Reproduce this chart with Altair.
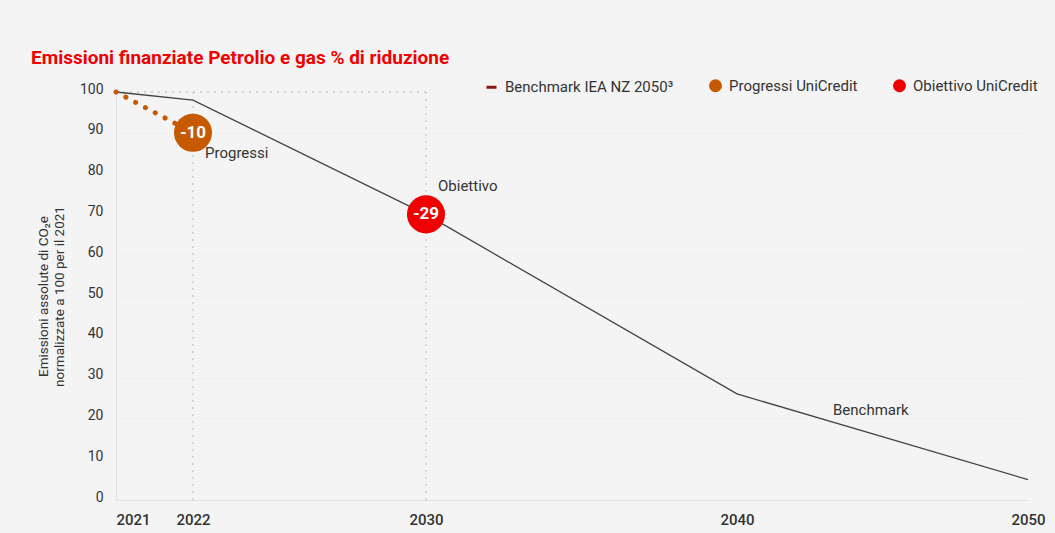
import altair as alt
import pandas as pd

# ---- data ----
bench_years = [2021, 2022, 2030, 2040, 2050]
bench_values = [100, 98, 70, 26, 5]

progress_years = [2021, 2022]
progress_values = [100, 90]

marker_years = [2022, 2030]
marker_values = [90, 70]
marker_labels = ["-10", "-29"]
marker_series = ["Progressi UniCredit", "Obiettivo UniCredit"]

note_texts = ["Progressi", "Obiettivo"]
note_years = [2022, 2030]
note_values = [85, 77]

bench_note = ["Benchmark"]
bench_note_year = [2044.6]
bench_note_value = [22]

ref_years = [2022, 2030]
ref_top = 100

tick_years = [2021, 2022, 2030, 2040, 2050]
legend_names = ["Benchmark IEA NZ 2050³", "Progressi UniCredit", "Obiettivo UniCredit"]
legend_colors = ["#8a1414", "#c55a00", "#f00000"]
legend_shapes = ["stroke", "circle", "circle"]

FONT = "Roboto"
TXT = "#333333"

xscale = alt.Scale(domain=[2021, 2022, 2030, 2040, 2050],
                   range=[0, 77, 310, 621, 912], nice=False, zero=False)
yscale = alt.Scale(domain=[0, 100], nice=False, zero=True)

bench_df = pd.DataFrame({"year": bench_years, "value": bench_values})
prog_df = pd.DataFrame({"year": progress_years, "value": progress_values})
mark_df = pd.DataFrame({"year": marker_years, "value": marker_values,
                        "label": marker_labels, "series": marker_series})
note_df = pd.DataFrame({"year": note_years, "value": note_values, "text": note_texts})
bnote_df = pd.DataFrame({"year": bench_note_year, "value": bench_note_value, "text": bench_note})
vref_df = pd.DataFrame({"year": ref_years, "y0": [0, 0], "y1": [ref_top, ref_top]})
href_df = pd.DataFrame({"x0": [2021], "x1": [2030], "value": [ref_top]})
leg_df = pd.DataFrame({"name": legend_names, "year": [2000] * 3, "value": [50] * 3})

x_axis = alt.Axis(values=tick_years, format="d", title=None, grid=False, ticks=False,
                  domain=True, domainColor="#e0e0e0", labelFontSize=15, labelFont=FONT,
                  labelColor=TXT, labelFontWeight=500, labelPadding=12,
                  labelAlign={"condition": {"test": "datum.value == 2021", "value": "left"},
                              "value": "center"})
y_axis = alt.Axis(values=list(range(0, 101, 10)), title=["Emissioni assolute di CO₂e",
                  "normalizzate a 100 per il 2021"], grid=True, gridColor="#f0f0f0",
                  ticks=False, domain=True, domainColor="#e0e0e0", labelFontSize=14,
                  labelFont=FONT, labelColor=TXT, labelPadding=13, labelOffset=-3,
                  titleFont=FONT, titleFontSize=13.5, titleFontWeight="normal",
                  titleColor=TXT, titlePadding=13)

base_x = alt.X("year:Q", scale=xscale, axis=x_axis)
base_y = alt.Y("value:Q", scale=yscale, axis=y_axis)

vref = alt.Chart(vref_df).mark_rule(color="#c8c8c8", strokeDash=[2, 5], strokeWidth=1.3).encode(
    x=alt.X("year:Q", scale=xscale, axis=x_axis),
    y=alt.Y("y0:Q", scale=yscale, axis=y_axis),
    y2="y1:Q")
href = alt.Chart(href_df).mark_rule(color="#c8c8c8", strokeDash=[2, 5], strokeWidth=1.3).encode(
    x=alt.X("x0:Q", scale=xscale), x2="x1:Q", y=alt.Y("value:Q", scale=yscale))

bench = alt.Chart(bench_df).mark_line(color="#444444", strokeWidth=1.3).encode(x=base_x, y=base_y)

prog = alt.Chart(prog_df).mark_line(color="#c55a00", strokeWidth=5, strokeDash=[0.1, 11],
                                     strokeCap="round").encode(
    x=alt.X("year:Q", scale=xscale), y=alt.Y("value:Q", scale=yscale))

circles = alt.Chart(mark_df).mark_point(filled=True, size=1450, opacity=1).encode(
    x=alt.X("year:Q", scale=xscale), y=alt.Y("value:Q", scale=yscale),
    color=alt.Color("series:N", scale=alt.Scale(domain=["Progressi UniCredit", "Obiettivo UniCredit"],
                                                range=["#c55a00", "#f00000"]), legend=None))
circle_txt = alt.Chart(mark_df).mark_text(color="white", fontWeight="bold", fontSize=17,
                                           font=FONT, align="center", baseline="middle").encode(
    x=alt.X("year:Q", scale=xscale), y=alt.Y("value:Q", scale=yscale), text="label:N")

notes = alt.Chart(note_df).mark_text(color=TXT, fontSize=15, font=FONT, align="left",
                                      baseline="middle", dx=12).encode(
    x=alt.X("year:Q", scale=xscale), y=alt.Y("value:Q", scale=yscale), text="text:N")
bnotes = alt.Chart(bnote_df).mark_text(color=TXT, fontSize=15, font=FONT, align="center",
                                        baseline="middle").encode(
    x=alt.X("year:Q", scale=xscale), y=alt.Y("value:Q", scale=yscale), text="text:N")

leg_scale = alt.Scale(domain=legend_names, range=legend_colors)
legend = alt.Chart(leg_df).mark_point(filled=True, size=100, strokeWidth=3, opacity=1,
                                      fillOpacity=1, strokeOpacity=1, clip=True).encode(
    x=alt.X("year:Q", scale=xscale), y=alt.Y("value:Q", scale=yscale),
    fill=alt.Fill("name:N", scale=leg_scale, sort=legend_names, title=None,
                  legend=alt.Legend(orient="none", legendX=368, legendY=-14, direction="horizontal",
                                    title=None, labelFont=FONT, labelFontSize=15, labelColor=TXT,
                                    labelOffset=6, columnPadding=30, symbolSize=100,
                                    labelLimit=400, symbolStrokeWidth=3, symbolOpacity=1)),
    stroke=alt.Stroke("name:N", scale=leg_scale, sort=legend_names, title=None),
    shape=alt.Shape("name:N", scale=alt.Scale(domain=legend_names, range=legend_shapes),
                    sort=legend_names, title=None),
)

chart = alt.layer(href, vref, bench, prog, circles, circle_txt, notes, bnotes, legend).properties(
    width=912, height=408,
    title=alt.TitleParams("Emissioni finanziate Petrolio e gas % di riduzione", anchor="start",
                          frame="group", dx=-85, offset=10, color="#f00000", font=FONT,
                          fontSize=19, fontWeight="bold"),
    background="#f4f4f4",
    padding={"left": 116, "top": 92, "right": 27, "bottom": 33},
    autosize=alt.AutoSizeParams(type="none"),
).configure_view(stroke=None)

chart.save("out.html", embed_options={"renderer": "svg", "actions": False})
